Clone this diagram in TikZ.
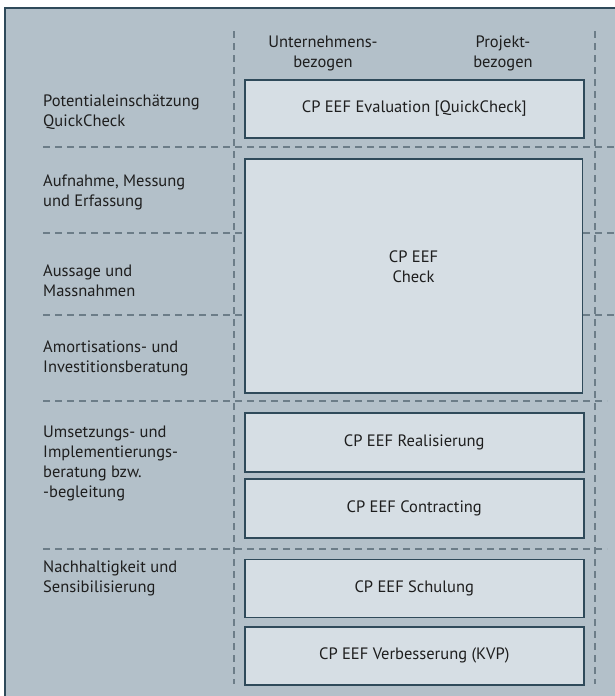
\documentclass[tikz,border=0pt]{standalone}
\usepackage{fontspec}
\setmainfont{PT Sans}
\definecolor{panel}{HTML}{B3C0C9}
\definecolor{boxfill}{HTML}{D6DEE4}
\definecolor{boxline}{HTML}{2F4A5A}
\definecolor{gridline}{HTML}{6C7D88}
\definecolor{ink}{HTML}{1E1E1E}
\begin{document}
\begin{tikzpicture}[
			x=1pt, y=-1pt,
			cpbox/.style={draw=boxline, line width=1.5pt, fill=boxfill, anchor=north west, inner sep=0pt},
			cptext/.style={align=center, text=ink, font=\fontsize{16.5}{20}\selectfont},
			phase/.style={anchor=west, align=left, inner sep=0pt, text=ink, font=\fontsize{16.5}{20}\selectfont},
			gridline/.style={draw=gridline, line width=1.3pt, dash pattern=on 7pt off 5pt}
		]
		\useasboundingbox (0,0) rectangle (614,696);
		\fill[white] (0,0) rectangle (614,696);
		\draw[boxline, line width=2pt, fill=panel] (5,8) rectangle (630,710);

		% dashed grid
		\draw[gridline] (234,31) -- (234,684);
		\draw[gridline] (595,31) -- (595,684);
		\foreach \y in {147,233,315} \draw[gridline] (43,\y) -- (614,\y);
		\foreach \y in {401,549} \draw[gridline] (43,\y) -- (607,\y);

		% column heads
		\node[cptext] (firm) at (323,53) {Unternehmens-\\bezogen};
		\node[cptext] (proj) at (503,53) {Projekt-\\bezogen};

		% boxes
		\node[cpbox, minimum width=339pt, minimum height=58pt] (eval) at (244,79) {};
		\node[cptext] at (eval.center) {CP EEF Evaluation [QuickCheck]};
		\node[cpbox, minimum width=337.5pt, minimum height=234pt] (check) at (244,158) {};
		\node[cptext] at ([yshift=9pt]check.center) {CP EEF\\Check};
		\node[cpbox, minimum width=339pt, minimum height=59pt] (real) at (244,412) {};
		\node[cptext] at (real.center) {CP EEF Realisierung};
		\node[cpbox, minimum width=339pt, minimum height=59pt] (contr) at (244,478) {};
		\node[cptext] at (contr.center) {CP EEF Contracting};
		\node[cpbox, minimum width=339pt, minimum height=58pt] (schul) at (244,558.5) {};
		\node[cptext] at (schul.center) {CP EEF Schulung};
		\node[cpbox, minimum width=339pt, minimum height=58pt] (kvp) at (244,626) {};
		\node[cptext] at (kvp.center) {CP EEF Verbesserung (KVP)};

		% phases
		\node[phase] (p1) at (43,112) {Potentialeinschätzung\\QuickCheck};
		\node[phase] (p2) at (43,192) {Aufnahme, Messung\\und Erfassung};
		\node[phase] (p3) at (43,281) {Aussage und\\Massnahmen};
		\node[phase] (p4) at (43,358) {Amortisations- und\\Investitionsberatung};
		\node[phase] (p5) at (43,463) {Umsetzungs- und\\Implementierungs-\\beratung bzw.\\-begleitung};
		\node[phase] (p6) at (43,578) {Nachhaltigkeit und\\Sensibilisierung};
	\end{tikzpicture}
\end{document}
